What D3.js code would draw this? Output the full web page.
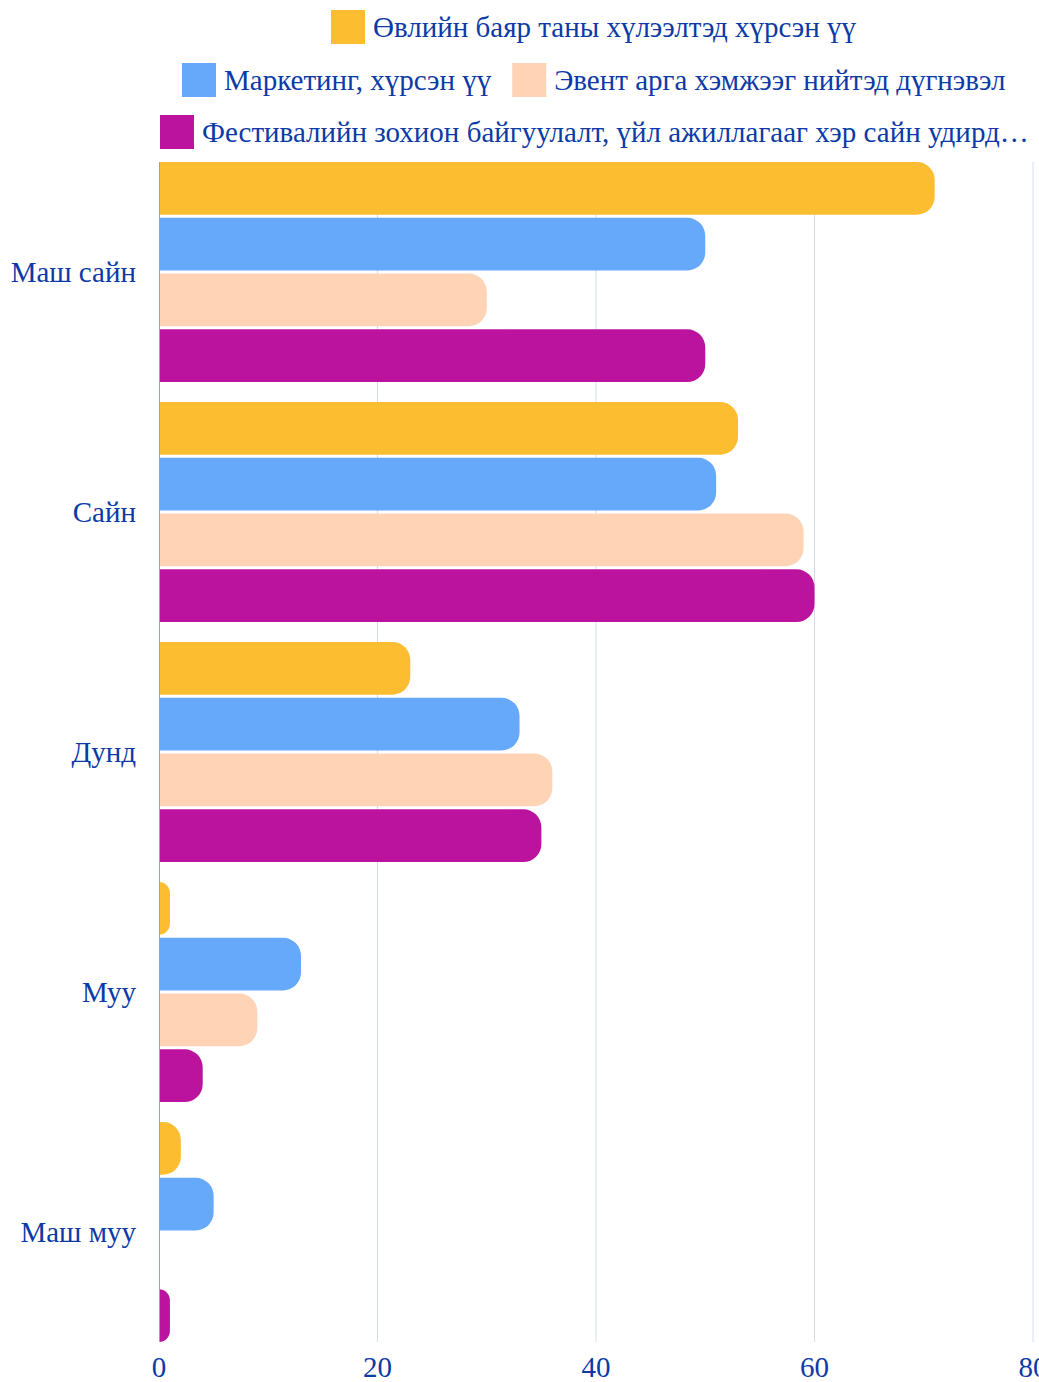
<!DOCTYPE html>
<html>
<head>
<meta charset="utf-8">
<script src="https://cdn.jsdelivr.net/npm/d3@7"></script>
<style>
  html, body { margin: 0; padding: 0; background: #fff; }
  svg { display: block; font-family: "Liberation Serif", "DejaVu Serif", serif; }
</style>
</head>
<body>
<svg id="chart" width="1039" height="1382"></svg>
<script>
const categories = ["Маш сайн", "Сайн", "Дунд", "Муу", "Маш муу"];
const seriesNames = [
  "Өвлийн баяр таны хүлээлтэд хүрсэн үү",
  "Маркетинг, хүрсэн үү",
  "Эвент арга хэмжээг нийтэд дүгнэвэл",
  "Фестивалийн зохион байгуулалт, үйл ажиллагааг хэр сайн удирдсан бэ"
];
const seriesColors = ["#fdbd30", "#66a8fa", "#ffd3b6", "#bb139e"];
// one array per series, in category order
const expectations = [71, 53, 23, 1, 2];
const marketing = [50, 51, 33, 13, 5];
const eventOverall = [30, 59, 36, 9, 0];
const organisation = [50, 60, 35, 4, 1];
const xTicks = [0, 20, 40, 60, 80];

const seriesValues = [expectations, marketing, eventOverall, organisation];
const textColor = "#0c3aa6";
const fontSize = 29;

const svg = d3.select("#chart");
const margin = { left: 159, top: 162 };
const plotRight = 1033;
const plotBottom = 1342;

const x = d3.scaleLinear().domain([0, 80]).range([margin.left, plotRight]);
const y = d3.scaleBand().domain(categories).range([margin.top, plotBottom])
  .paddingInner(0.0833).paddingOuter(0);
const ySub = d3.scaleBand().domain(d3.range(seriesNames.length))
  .range([0, y.bandwidth()]).paddingInner(0.055);

// grid
svg.append("g")
  .selectAll("line")
  .data(xTicks.slice(1))
  .join("line")
  .attr("x1", d => x(d)).attr("x2", d => x(d))
  .attr("y1", margin.top).attr("y2", plotBottom)
  .attr("stroke", "#d3dcee").attr("stroke-width", 1);

// bars with rounded right end
function barPath(x0, y0, w, h, r) {
  if (w <= 0) return "";
  r = Math.min(r, w, h / 2);
  return `M${x0},${y0}H${x0 + w - r}A${r},${r} 0 0 1 ${x0 + w},${y0 + r}` +
    `V${y0 + h - r}A${r},${r} 0 0 1 ${x0 + w - r},${y0 + h}H${x0}Z`;
}

const rows = [];
categories.forEach((c, ci) => {
  seriesValues.forEach((vals, si) => rows.push({ c, si, v: vals[ci] }));
});

svg.append("g")
  .selectAll("path")
  .data(rows)
  .join("path")
  .attr("d", d => barPath(x(0), y(d.c) + ySub(d.si), x(d.v) - x(0), ySub.bandwidth(), 18))
  .attr("fill", d => seriesColors[d.si]);

// y axis line
svg.append("line")
  .attr("x1", x(0) + 0.5).attr("x2", x(0) + 0.5)
  .attr("y1", margin.top).attr("y2", plotBottom)
  .attr("stroke", "#8fa3d8").attr("stroke-width", 1);

// category labels
svg.append("g")
  .selectAll("text")
  .data(categories)
  .join("text")
  .attr("x", 136)
  .attr("y", d => y(d) + y.bandwidth() / 2)
  .attr("dy", "0.35em")
  .attr("text-anchor", "end")
  .attr("font-size", fontSize)
  .attr("fill", textColor)
  .text(d => d);

// x tick labels
svg.append("g")
  .selectAll("text")
  .data(xTicks)
  .join("text")
  .attr("x", d => x(d))
  .attr("y", 1367)
  .attr("dy", "0.35em")
  .attr("text-anchor", "middle")
  .attr("font-size", fontSize)
  .attr("fill", textColor)
  .text(d => d);

// legend
const legendRows = [[0], [1, 2], [3]];
const rowY = [27, 80, 132];
const sw = 34, gapText = 8, gapItem = 21, cx = 594;
const legend = svg.append("g").attr("font-size", fontSize).attr("fill", textColor);

function fitText(node, text, maxW) {
  node.text(text);
  if (node.node().getComputedTextLength() <= maxW) return;
  let t = text;
  while (t.length > 1) {
    t = t.slice(0, -1);
    node.text(t.trimEnd() + "…");
    if (node.node().getComputedTextLength() <= maxW) return;
  }
}

legendRows.forEach((items, ri) => {
  const g = legend.append("g");
  let cursor = 0;
  items.forEach(si => {
    g.append("rect")
      .attr("x", cursor).attr("y", rowY[ri] - sw / 2)
      .attr("width", sw).attr("height", sw)
      .attr("fill", seriesColors[si]);
    const t = g.append("text")
      .attr("x", cursor + sw + gapText)
      .attr("y", rowY[ri])
      .attr("dy", "0.35em");
    fitText(t, seriesNames[si], 1024 - 152 - sw - gapText);
    cursor += sw + gapText + t.node().getComputedTextLength() + gapItem;
  });
  const total = cursor - gapItem;
  g.attr("transform", `translate(${Math.round(cx - total / 2)},0)`);
});
</script>
</body>
</html>
